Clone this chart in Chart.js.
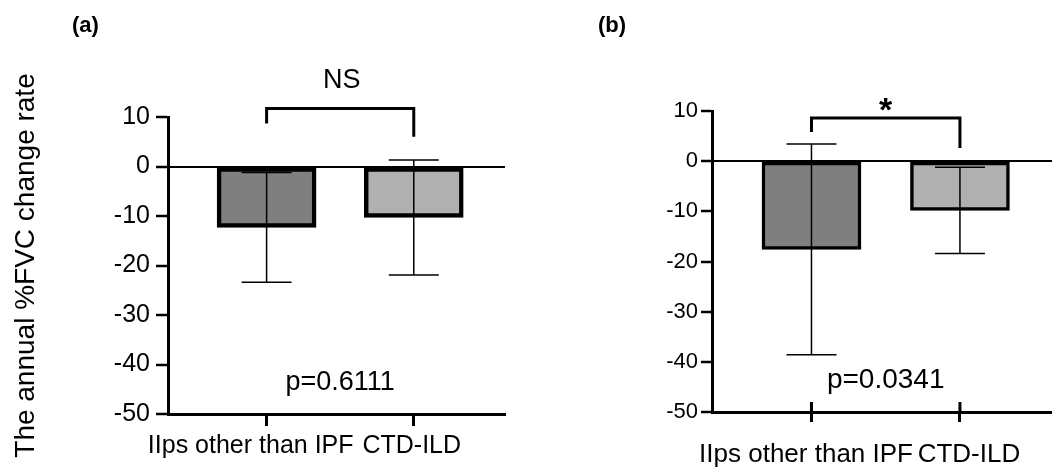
<!DOCTYPE html>
<html>
<head>
<meta charset="utf-8">
<script src="https://cdn.jsdelivr.net/npm/chart.js@4.4.0/dist/chart.umd.min.js"></script>
<style>
  body { margin: 0; background: #fff; }
  .panel { position: absolute; top: 0; width: 526px; height: 473px; }
  #wrapA { left: 0; }
  #wrapB { left: 526px; }
</style>
</head>
<body>
<div class="panel" id="wrapA"><canvas id="chartA"></canvas></div>
<div class="panel" id="wrapB"><canvas id="chartB"></canvas></div>
<script>
// data
var categories = ["IIps other than IPF", "CTD-ILD"];
var yTicks = [-50, -40, -30, -20, -10, 0, 10];
var yTitle = "The annual %FVC change rate";

var meansA = [-12.3, -10.3];
var sdA = [11.1, 11.6];
var pA = "p=0.6111";
var sigA = "NS";

var meansB = [-17.6, -9.8];
var sdB = [21.0, 8.6];
var pB = "p=0.0341";
var sigB = "*";

var FONT = '"Liberation Sans", Arial, Helvetica, sans-serif';
Chart.defaults.font.family = FONT;
Chart.defaults.color = '#000';

// error bars, significance bracket and texts
var panelMarks = {
  id: 'panelMarks',
  afterDatasetsDraw: function (chart, args, o) {
    var ctx = chart.ctx, x = chart.scales.x, y = chart.scales.y;
    var pts = chart.data.datasets[0].data;
    ctx.save();
    ctx.strokeStyle = '#000';
    ctx.fillStyle = '#000';

    ctx.lineWidth = o.errWidth;
    o.sd.forEach(function (s, i) {
      var px = x.getPixelForValue(i);
      var top = y.getPixelForValue(pts[i].y + s);
      var bot = y.getPixelForValue(pts[i].y - s);
      ctx.beginPath();
      ctx.moveTo(px, top); ctx.lineTo(px, bot);
      ctx.moveTo(px - o.cap / 2, top); ctx.lineTo(px + o.cap / 2, top);
      ctx.moveTo(px - o.cap / 2, bot); ctx.lineTo(px + o.cap / 2, bot);
      ctx.stroke();
    });

    var x0 = x.getPixelForValue(0), x1 = x.getPixelForValue(1);
    ctx.lineWidth = o.bracketWidth;
    ctx.beginPath();
    ctx.moveTo(x0, y.getPixelForValue(o.bracket[1]));
    ctx.lineTo(x0, y.getPixelForValue(o.bracket[0]));
    ctx.lineTo(x1, y.getPixelForValue(o.bracket[0]));
    ctx.lineTo(x1, y.getPixelForValue(o.bracket[2]));
    ctx.stroke();

    if (o.innerTick) {
      ctx.lineWidth = o.tickWidth;
      ctx.beginPath();
      [0, 1].forEach(function (i) {
        var px = x.getPixelForValue(i);
        ctx.moveTo(px, chart.chartArea.bottom);
        ctx.lineTo(px, chart.chartArea.bottom - o.innerTick);
      });
      ctx.stroke();
    }

    ctx.textAlign = 'center';
    ctx.textBaseline = 'alphabetic';
    ctx.font = o.markFont;
    ctx.fillText(o.mark, x.getPixelForValue(o.markX), y.getPixelForValue(o.markY));
    ctx.font = o.pFont;
    ctx.fillText(o.p, x.getPixelForValue(0.5), y.getPixelForValue(o.pY));
    ctx.textAlign = 'left';
    ctx.font = 'bold 22px ' + FONT;
    ctx.fillText(o.panel, 72, 32);
    ctx.restore();
  }
};

function makeChart(id, means, st) {
  return new Chart(document.getElementById(id), {
    type: 'bar',
    data: {
      datasets: [{
        data: categories.map(function (c, i) { return { x: i, y: means[i] }; }),
        backgroundColor: ['#7f7f7f', '#b0b0b0'],
        borderColor: '#000',
        borderWidth: st.barBorder,
        borderSkipped: false,
        barThickness: 99
      }]
    },
    plugins: [panelMarks],
    options: {
      responsive: true,
      maintainAspectRatio: false,
      animation: false,
      events: [],
      layout: { padding: { top: st.padTop, right: st.padRight, left: 0, bottom: 0 } },
      plugins: {
        legend: { display: false },
        tooltip: { enabled: false },
        panelMarks: st.marks
      },
      scales: {
        x: {
          type: 'linear',
          min: -0.67,
          max: 1.62,
          offset: false,
          afterBuildTicks: function (s) { s.ticks = categories.map(function (c, i) { return { value: i }; }); },
          afterFit: function (s) { s.height = st.xHeight; },
          border: { color: '#000', width: 3 },
          grid: { offset: false, drawOnChartArea: false, color: '#000', tickColor: '#000', tickWidth: 3, tickLength: st.xTickLen },
          ticks: {
            font: { size: st.xFont },
            padding: st.xPad,
            labelOffset: st.xLabelOffset,
            maxRotation: 0,
            minRotation: 0,
            autoSkip: false,
            callback: function (v) { return categories[v] + (v === 0 ? '    ' : ''); }
          }
        },
        y: {
          min: -50,
          max: 10,
          afterBuildTicks: function (s) { s.ticks = yTicks.map(function (v) { return { value: v }; }); },
          afterFit: function (s) { s.width = st.yWidth; },
          border: { color: '#000', width: 3 },
          grid: {
            color: function (c) { return c.tick && c.tick.value === 0 ? '#000' : 'rgba(0,0,0,0)'; },
            lineWidth: 2,
            tickColor: '#000',
            tickWidth: 2.5,
            tickLength: st.yTickLen
          },
          ticks: { font: { size: st.yFont }, padding: st.yPad },
          title: st.title
        }
      }
    }
  });
}

makeChart('chartA', meansA, {
  barBorder: 4.5, padTop: 117, padRight: 21, xHeight: 59, yWidth: 168,
  xTickLen: 12, xFont: 25, xPad: 5, xLabelOffset: -2,
  yTickLen: 12, yFont: 25, yPad: 6,
  title: { display: true, text: yTitle, font: { size: 28 }, padding: { top: 9, bottom: 0 } },
  marks: {
    sd: sdA, cap: 50, errWidth: 1.5,
    bracket: [11.7, 8.7, 6.0], bracketWidth: 3,
    mark: sigA, markFont: '27px ' + FONT, markX: 0.51, markY: 15.9,
    p: pA, pFont: '27px ' + FONT, pY: -45.2,
    panel: '(a)', innerTick: 0, tickWidth: 3
  }
});

makeChart('chartB', meansB, {
  barBorder: 3.5, padTop: 111, padRight: 0, xHeight: 61, yWidth: 186,
  xTickLen: 10, xFont: 26, xPad: 17, xLabelOffset: 9,
  yTickLen: 11, yFont: 22, yPad: 3,
  title: { display: false },
  marks: {
    sd: sdB, cap: 50, errWidth: 1.5,
    bracket: [8.6, 5.8, 2.6], bracketWidth: 3,
    mark: sigB, markFont: 'bold 34px ' + FONT, markX: 0.5, markY: 8.1,
    p: pB, pFont: '28px ' + FONT, pY: -45.2,
    panel: '(b)', innerTick: 10, tickWidth: 3
  }
});
</script>
</body>
</html>
